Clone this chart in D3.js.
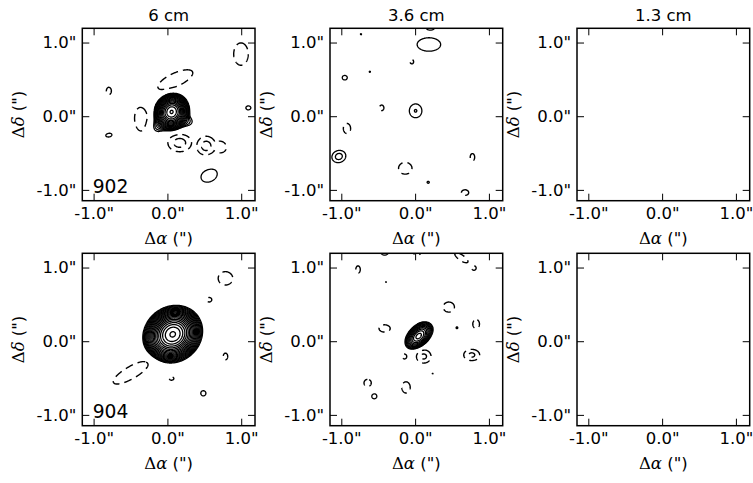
<!DOCTYPE html>
<html><head><meta charset="utf-8">
<script src="https://cdn.jsdelivr.net/npm/d3@7"></script>
<style>body{margin:0;background:#fff}svg{display:block}</style>
</head><body>
<svg id="chart" width="753" height="483"></svg>
<script>
// ---------------- data ----------------
const bands = ["6 cm", "3.6 cm", "1.3 cm"];
const sources = ["902", "904"];
const tickValues = [-1, 0, 1];
const tickLabels = ['-1.0"', '0.0"', '1.0"'];
const xLimits = [-1.16, 1.18];
const yLimits = [-1.14, 1.2];
// contour levels in units of the map rms (factor sqrt(2) steps)
const posLevels = [3, 4.24, 6, 8.49, 12, 16.97, 24, 33.9, 48, 67.9, 96, 135.8, 192, 271.5, 384, 543, 768, 1086, 1536, 2172];
const negLevels = [-3, -4.24];
// emission components: [dRA, dDec, peak (rms), sigmaMaj, sigmaMin, PA deg]
const comp902_6cm = [
  [0.05, 0.065, 800, 0.080, 0.072, 70],
  [-0.12, -0.11, 6, 0.10, 0.07, 45],
  [0.25, -0.07, 5, 0.08, 0.06, 0],
  [0.10, 0.50, -4, 0.34, 0.12, 25],
  [0.99, 0.85, -4, 0.20, 0.13, 90],
  [-0.36, -0.04, -4, 0.22, 0.12, 95],
  [0.16, -0.355, -4.76, 0.167, 0.125, 0],
  [0.52, -0.40, -4.76, 0.135, 0.14, 0],
  [0.70, -0.42, -3.8, 0.14, 0.13, 0],
  [0.56, -0.79, 4, 0.16, 0.12, 30],
  [-0.80, -0.25, 4, 0.055, 0.033, 10],
  [-0.80, 0.35, -4, 0.065, 0.045, 90],
  [1.09, 0.12, 4, 0.045, 0.035, 0]
];
const comp902_36cm = [
  [0.18, 0.98, 4, 0.21, 0.12, 0],
  [0.20, 1.24, 4.5, 0.07, 0.05, 0],
  [-0.74, 1.12, 3.1, 0.03, 0.03, 0],
  [-0.62, 0.61, 3.1, 0.03, 0.03, 0],
  [-0.05, 0.75, -4, 0.05, 0.04, 90],
  [-0.96, 0.53, 4, 0.045, 0.04, 0],
  [-0.46, 0.12, -4, 0.05, 0.04, 90],
  [0.0, 0.08, 4.3, 0.11, 0.10, 90],
  [-0.93, -0.16, -4, 0.09, 0.065, 90],
  [-1.04, -0.54, 4.75, 0.10, 0.085, 20],
  [-0.14, -0.70, -4, 0.12, 0.105, 0],
  [0.17, -0.89, 3.2, 0.045, 0.04, 0],
  [0.77, -0.55, -4, 0.065, 0.04, 90],
  [0.67, -1.03, -4, 0.065, 0.05, 0]
];
const comp902_13cm = [];
const comp904_6cm = [
  [0.065, 0.10, 2300, 0.116, 0.103, 38],
  [0.78, 0.86, -4, 0.13, 0.12, 0],
  [0.56, 0.57, -4, 0.045, 0.04, 0],
  [0.78, -0.20, -4, 0.06, 0.04, 90],
  [-0.50, -0.42, -4, 0.36, 0.11, 30],
  [0.05, -0.50, -4, 0.04, 0.03, 0],
  [0.48, -0.70, 4, 0.046, 0.046, 0]
];
const comp904_36cm = [
  [0.04, 0.075, 110, 0.082, 0.052, 45],
  [0.12, 0.17, 8, 0.06, 0.05, 0],
  [0.11, -0.20, -4.5, 0.11, 0.10, 0],
  [-0.15, -0.20, -4, 0.045, 0.04, 90],
  [-0.42, 0.18, -4, 0.10, 0.065, 0],
  [0.23, -0.43, 3.2, 0.04, 0.04, 0],
  [-0.13, -0.62, -4, 0.10, 0.075, 90],
  [-0.65, -0.56, -4, 0.065, 0.065, 0],
  [-0.56, -0.74, 4, 0.046, 0.046, 0],
  [-0.78, 0.98, -4, 0.065, 0.04, 90],
  [-0.40, 0.81, 3.05, 0.03, 0.03, 0],
  [-0.42, 1.22, 4.5, 0.06, 0.05, 0],
  [0.02, 1.22, -4.5, 0.06, 0.05, 0],
  [0.62, 1.14, -4, 0.14, 0.05, -35],
  [0.79, 1.00, -4, 0.04, 0.04, 0],
  [0.45, 0.47, -4, 0.10, 0.09, 0],
  [0.56, 0.19, 3.2, 0.035, 0.035, 0],
  [0.82, 0.24, -4, 0.08, 0.06, 90],
  [0.76, -0.18, -4.5, 0.12, 0.085, 0]
];
const comp904_13cm = [];
const panelComponents = [[comp902_6cm, comp902_36cm, comp902_13cm], [comp904_6cm, comp904_36cm, comp904_13cm]];

// ---------------- layout ----------------
const colLeft = [82.3, 330, 577];
const rowTop = [28.3, 253.3];
const W = 172.7, H = 172.4;
const FONT = "DejaVu Sans, sans-serif";
const svg = d3.select("#chart");

// grid for the model image
const g0 = -1.32, g1 = 1.32, step = 0.007;
const N = Math.round((g1 - g0) / step) + 1;

// positive components add up; negative (sidelobe) components do not merge: the deepest one wins
function buildField(comps) {
  const vals = new Float64Array(N * N);
  const pre = comps.map(c => {
    const t = c[5] * Math.PI / 180;
    return {x: c[0], y: c[1], p: c[2], a2: 2 * c[3] * c[3], b2: 2 * c[4] * c[4], ct: Math.cos(t), st: Math.sin(t)};
  });
  for (let j = 0; j < N; j++) {
    const y = g0 + j * step;
    for (let i = 0; i < N; i++) {
      const x = g0 + i * step;
      let pos = 0, neg = 0;
      for (const c of pre) {
        const dx = x - c.x, dy = y - c.y;
        const u = dx * c.ct + dy * c.st, w = -dx * c.st + dy * c.ct;
        const e = u * u / c.a2 + w * w / c.b2;
        if (e < 30) {
          const v = c.p * Math.exp(-e);
          if (v >= 0) pos += v; else neg = Math.min(neg, v);
        }
      }
      vals[j * N + i] = pos + neg;
    }
  }
  return vals;
}

sources.forEach((src, r) => {
  bands.forEach((band, c) => {
    const left = colLeft[c], top = rowTop[r];
    const xs = d3.scaleLinear().domain(xLimits).range([left, left + W]);
    const ys = d3.scaleLinear().domain(yLimits).range([top + H, top]);
    const g = svg.append("g");
    const clipId = `clip${r}${c}`;
    svg.append("clipPath").attr("id", clipId).append("rect")
      .attr("x", left).attr("y", top).attr("width", W).attr("height", H);

    const comps = panelComponents[r][c];
    if (comps.length) {
      const vals = buildField(comps);
      const neg = vals.map(v => -v);
      const proj = d3.geoTransform({
        point: function(px, py) {
          this.stream.point(xs(g0 + (px - 0.5) * step), ys(g0 + (py - 0.5) * step));
        }
      });
      const path = d3.geoPath(proj);
      const cg = g.append("g").attr("clip-path", `url(#${clipId})`);
      const posC = d3.contours().size([N, N]).thresholds(posLevels)(vals);
      cg.selectAll("path.pos").data(posC.filter(d => d.coordinates.length)).join("path")
        .attr("class", "pos").attr("d", path)
        .attr("fill", "none").attr("stroke", "#000").attr("stroke-width", 1.3);
      const negC = d3.contours().size([N, N]).thresholds(negLevels.map(v => -v))(neg);
      cg.selectAll("path.neg").data(negC.filter(d => d.coordinates.length)).join("path")
        .attr("class", "neg").attr("d", path)
        .attr("fill", "none").attr("stroke", "#000").attr("stroke-width", 1.4)
        .attr("stroke-dasharray", "8,5");
    }

    // frame
    g.append("rect").attr("x", left).attr("y", top).attr("width", W).attr("height", H)
      .attr("fill", "none").attr("stroke", "#000").attr("stroke-width", 1.5);

    // inward ticks on all sides
    const TL = 7;
    tickValues.forEach((t, k) => {
      const px = xs(t), py = ys(t);
      g.append("line").attr("x1", px).attr("x2", px).attr("y1", top + H).attr("y2", top + H - TL).attr("stroke", "#000");
      g.append("line").attr("x1", px).attr("x2", px).attr("y1", top).attr("y2", top + TL).attr("stroke", "#000");
      g.append("line").attr("y1", py).attr("y2", py).attr("x1", left).attr("x2", left + TL).attr("stroke", "#000");
      g.append("line").attr("y1", py).attr("y2", py).attr("x1", left + W).attr("x2", left + W - TL).attr("stroke", "#000");
      g.append("text").attr("x", px).attr("y", top + H + 18).attr("text-anchor", "middle")
        .attr("font-family", FONT).attr("font-size", 16.5).text(tickLabels[k]);
      g.append("text").attr("x", left - 6).attr("y", py).attr("dy", "0.32em").attr("text-anchor", "end")
        .attr("font-family", FONT).attr("font-size", 16.5).text(tickLabels[k]);
    });

    // x label
    const xl = g.append("text").attr("x", left + W / 2).attr("y", top + H + 43.5)
      .attr("text-anchor", "middle").attr("font-family", FONT).attr("font-size", 16.5);
    xl.append("tspan").attr("font-family", "DejaVu Serif").text("Δ");
    xl.append("tspan").attr("font-family", "DejaVu Serif").attr("font-style", "italic").text("α");
    xl.append("tspan").text(' (")');
    // y label
    const yx = left - 58, yy = top + H / 2;
    const yl = g.append("text").attr("transform", `translate(${yx},${yy}) rotate(-90)`)
      .attr("text-anchor", "middle").attr("font-family", FONT).attr("font-size", 16.5);
    yl.append("tspan").attr("font-family", "DejaVu Serif").text("Δ");
    yl.append("tspan").attr("font-family", "DejaVu Serif").attr("font-style", "italic").text("δ");
    yl.append("tspan").text(' (")');

    if (r === 0) {
      g.append("text").attr("x", left + W / 2).attr("y", top - 7).attr("text-anchor", "middle")
        .attr("font-family", FONT).attr("font-size", 16.5).text(band);
    }
    if (c === 0) {
      g.append("text").attr("x", left + 10.4).attr("y", top + 165)
        .attr("font-family", FONT).attr("font-size", 18.7).text(src);
    }
  });
});
</script>
</body></html>
